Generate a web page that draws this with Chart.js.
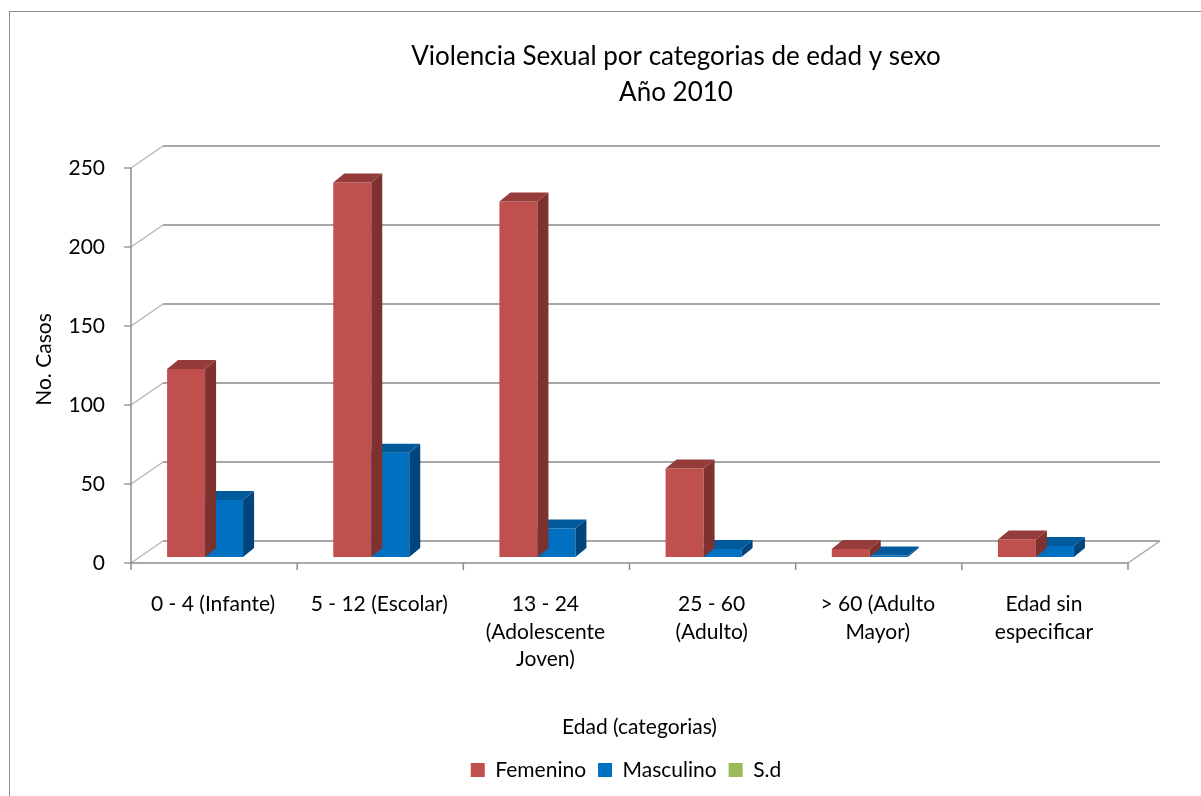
<!DOCTYPE html>
<html>
<head>
<meta charset="utf-8">
<script src="https://cdn.jsdelivr.net/npm/chart.js@4.4.3/dist/chart.umd.min.js"></script>
<style>
  html, body { margin: 0; padding: 0; background: #fff; overflow: hidden; }
  #wrap { width: 1201px; height: 796px; overflow: hidden; position: relative; }
  canvas { display: block; }
</style>
</head>
<body>
<div id="wrap"><canvas id="chart" width="1352" height="796"></canvas></div>
<script>
const categories = [
    ['0 - 4 (Infante)'],
    ['5 - 12 (Escolar)'],
    ['13 - 24', '(Adolescente', 'Joven)'],
    ['25 - 60', '(Adulto)'],
    ['> 60 (Adulto', 'Mayor)'],
    ['Edad sin', 'especificar']
];
const femenino = [119, 237, 225, 56, 5, 11];
const masculino = [36, 66, 18, 5, 1, 7];
const sinDato = [0, 0, 0, 0, 0, 0];
const yTicks = [0, 50, 100, 150, 200, 250];

const FONT = 'Lato, "Open Sans", sans-serif';
// offsets of the front edge / back wall relative to the plane the bars stand in
const FRONT = { dx: -10, dy: 6 };
const BACK = { dx: 22, dy: -16 };
const DEPTH = { dx: 11, dy: -9 };
const faces = {
    '#C0504D': { side: '#7D3230', top: '#953C3A' },
    '#0070C0': { side: '#00467C', top: '#005A9C' }
};

function line(ctx, x1, y1, x2, y2) {
    ctx.beginPath();
    ctx.moveTo(x1, y1);
    ctx.lineTo(x2, y2);
    ctx.stroke();
}

function poly(ctx, pts, color) {
    ctx.fillStyle = color;
    ctx.beginPath();
    ctx.moveTo(pts[0][0], pts[0][1]);
    pts.slice(1).forEach(p => ctx.lineTo(p[0], p[1]));
    ctx.closePath();
    ctx.fill();
}

const box3d = {
    id: 'box3d',
    afterLayout(chart) {
        // legend sits left of the (wider) chart's centre in the original
        chart.legend.left -= 50;
        chart.legend.right -= 50;
    },
    beforeDraw(chart) {
        const { ctx } = chart;
        ctx.save();
        ctx.strokeStyle = '#8C8C8C';
        ctx.lineWidth = 1;
        ctx.strokeRect(9.5, 11.5, 2000, 2000);
        ctx.restore();
    },
    beforeDatasetsDraw(chart) {
        const { ctx, chartArea: a, scales: { x, y } } = chart;
        const y0 = y.getPixelForValue(0);
        ctx.save();
        yTicks.forEach(v => {
            const py = y.getPixelForValue(v);
            ctx.strokeStyle = '#A6A6A6';
            ctx.lineWidth = 2;
            line(ctx, a.left + BACK.dx, py + BACK.dy, a.right + BACK.dx, py + BACK.dy);
            ctx.lineWidth = 1.3;
            ctx.strokeStyle = '#B4B4B4';
            line(ctx, a.left + FRONT.dx, py + FRONT.dy, a.left + BACK.dx, py + BACK.dy);
            ctx.strokeStyle = '#8C8C8C';
            line(ctx, a.left + FRONT.dx - 7, py + FRONT.dy, a.left + FRONT.dx, py + FRONT.dy);
        });
        ctx.strokeStyle = '#8C8C8C';
        ctx.lineWidth = 1.5;
        const top = y.getPixelForValue(yTicks[yTicks.length - 1]);
        line(ctx, a.left + FRONT.dx, top + FRONT.dy, a.left + FRONT.dx, y0 + FRONT.dy);
        line(ctx, a.left + FRONT.dx, y0 + FRONT.dy, a.right + FRONT.dx, y0 + FRONT.dy);
        ctx.strokeStyle = '#A6A6A6';
        line(ctx, a.right + FRONT.dx, y0 + FRONT.dy, a.right + BACK.dx, y0 + BACK.dy);
        ctx.strokeStyle = '#8C8C8C';
        for (let i = 0; i <= categories.length; i++) {
            const px = x.getPixelForValue(i - 0.5) + FRONT.dx;
            line(ctx, px, y0 + FRONT.dy, px, y0 + FRONT.dy + 7);
        }
        ctx.restore();
    },
    afterDatasetDraw(chart, args) {
        const { ctx } = chart;
        const ds = chart.data.datasets[args.index];
        const f = faces[ds.backgroundColor];
        if (!f) return;
        ctx.save();
        args.meta.data.forEach((bar, i) => {
            if (!ds.data[i]) return;
            const l = bar.x - bar.width / 2, r = bar.x + bar.width / 2;
            const t = bar.y, b = bar.base;
            poly(ctx, [[r, t], [r + DEPTH.dx, t + DEPTH.dy], [r + DEPTH.dx, b + DEPTH.dy], [r, b]], f.side);
            poly(ctx, [[l, t], [l + DEPTH.dx, t + DEPTH.dy], [r + DEPTH.dx, t + DEPTH.dy], [r, t]], f.top);
        });
        ctx.restore();
    }
};

new Chart(document.getElementById('chart'), {
    type: 'bar',
    data: {
        labels: categories,
        datasets: [
            { label: 'Femenino', data: femenino, backgroundColor: '#C0504D' },
            { label: 'Masculino', data: masculino, backgroundColor: '#0070C0' },
            { label: 'S.d', data: sinDato, backgroundColor: '#9BBB59' }
        ]
    },
    options: {
        responsive: false,
        animation: false,
        events: [],
        layout: { padding: { left: 0, right: 0, top: 0, bottom: 5.5 } },
        datasets: { bar: { categoryPercentage: 0.686, barPercentage: 1, borderWidth: 0 } },
        scales: {
            x: {
                grid: { display: false },
                border: { display: false },
                ticks: {
                    color: '#000', font: { family: FONT, size: 21, lineHeight: 1.3 },
                    padding: 26, labelOffset: -11, maxRotation: 0, autoSkip: false
                },
                title: {
                    display: true, text: 'Edad (categorias)', color: '#000',
                    font: { family: FONT, size: 21 }, padding: { top: 0, bottom: 8 }
                },
                afterFit(s) { s.height = 190.5; }
            },
            y: {
                min: yTicks[0], max: yTicks[yTicks.length - 1],
                grid: { display: false },
                border: { display: false },
                ticks: {
                    stepSize: 50, color: '#000', font: { family: FONT, size: 21 },
                    padding: 28, labelOffset: 6
                },
                title: {
                    display: true, text: 'No. Casos', color: '#000',
                    font: { family: FONT, size: 21 }, padding: { top: 32, bottom: 0 }
                },
                afterFit(s) { s.width = 141; }
            },
            y2: {
                type: 'linear', position: 'right',
                grid: { display: false }, border: { display: false },
                ticks: { display: false },
                afterFit(s) { s.width = 214; }
            }
        },
        plugins: {
            tooltip: { enabled: false },
            title: {
                display: true,
                text: ['Violencia Sexual por categorias de edad y sexo', 'Año 2010'],
                color: '#000',
                font: { family: FONT, size: 26, weight: 'normal', lineHeight: 36 / 26 },
                padding: { top: 39, bottom: 51 }
            },
            legend: {
                position: 'bottom',
                labels: {
                    color: '#000', font: { family: FONT, size: 21 },
                    boxWidth: 14, boxHeight: 14, padding: 12
                }
            }
        }
    },
    plugins: [box3d]
});
</script>
</body>
</html>
